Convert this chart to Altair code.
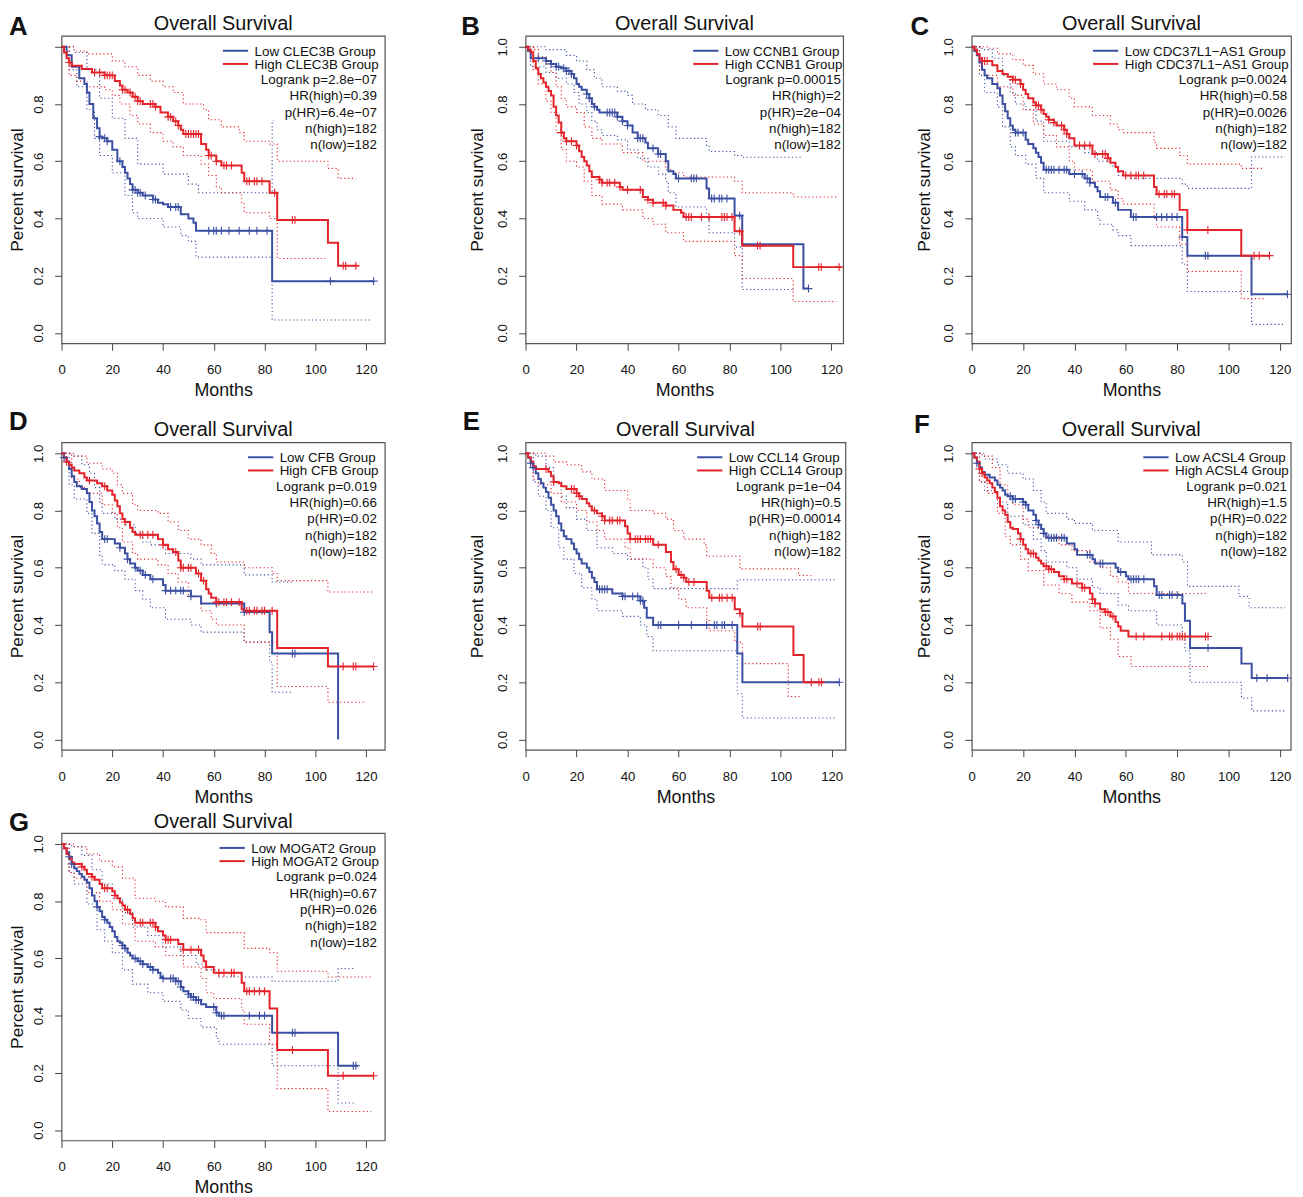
import altair as alt
import pandas as pd

BLUE = "#3b4fa2"
RED = "#e3232a"
FONT = "Liberation Sans"
INK = "#111111"

# ---------------- Kaplan-Meier curves: (months, survival) step points ----------------
# Panel A  CLEC3B
A_LOW = [(0,1.0),(2,0.97),(4,0.93),(7,0.89),(9,0.87),(10,0.84),(11,0.80),(12.5,0.75),(14,0.715),(15,0.686),(16,0.68),(18,0.67),(20,0.64),(22,0.60),(24,0.58),(25,0.56),(26,0.54),(27,0.52),(28,0.50),(30,0.49),(32,0.48),(36,0.466),(38,0.455),(40,0.45),(42,0.44),(47,0.415),(50,0.40),(52,0.385),(53,0.357),(83,0.181),(123,0.181)]
A_HIGH = [(0,1.0),(1,0.98),(2,0.96),(3,0.945),(4,0.934),(8,0.922),(12,0.91),(17,0.90),(21,0.88),(23,0.865),(24,0.85),(26,0.84),(28,0.825),(30,0.81),(32,0.80),(37,0.79),(39,0.77),(42,0.755),(44,0.74),(46,0.725),(47,0.71),(48,0.695),(55,0.66),(57,0.64),(58,0.62),(61,0.60),(63,0.585),(71,0.56),(72,0.53),(82,0.49),(85,0.395),(105,0.315),(109,0.235),(117,0.235)]
A_LOW_UP = [(0,1.0),(5,0.98),(10,0.92),(15,0.82),(20,0.75),(25,0.68),(30,0.59),(40,0.555),(50,0.52),(54,0.49),(83,0.742),(83.5,0.742)]
A_LOW_LO = [(0,1.0),(3,0.92),(6,0.86),(10,0.78),(13,0.68),(15,0.62),(20,0.56),(25,0.48),(28,0.42),(30,0.40),(40,0.37),(47,0.34),(50,0.32),(53,0.265),(83,0.045),(122,0.045)]
A_HIGH_UP = [(0,1.0),(5,0.985),(10,0.975),(20,0.95),(25,0.93),(30,0.90),(35,0.88),(40,0.86),(44,0.84),(48,0.80),(56,0.78),(58,0.745),(63,0.72),(70,0.70),(72,0.67),(82,0.66),(85,0.60),(105,0.575),(109,0.54),(116,0.54)]
A_HIGH_LO = [(0,1.0),(3,0.90),(6,0.88),(10,0.86),(17,0.85),(20,0.83),(23,0.80),(27,0.76),(30,0.73),(35,0.70),(40,0.67),(44,0.65),(48,0.62),(55,0.59),(58,0.55),(61,0.51),(63,0.49),(71,0.455),(72,0.42),(82,0.40),(85,0.26),(104,0.26)]
A_CENS_LOW = [15,17,18,23,28,29,30,31,33,36,37,43,45,46,58,60,61,63,66,70,74,77,81,106,123]
A_CENS_HIGH = [3,13,15,17,18,19,20,24,25,27,29,30,31,35,36,37,42,43,45,46,49,50,51,52,53,54,58,59,61,64,65,67,73,74,76,77,79,84,91,92,111,112,116]

# Panel B  CCNB1
B_LOW = [(0,1.0),(1,0.985),(2,0.96),(8,0.95),(10,0.94),(12,0.93),(14,0.925),(16,0.915),(18,0.905),(19,0.89),(20,0.87),(21,0.86),(22,0.85),(24,0.835),(25,0.82),(26,0.80),(27,0.79),(28,0.78),(29,0.77),(36,0.755),(38,0.74),(40,0.725),(42,0.70),(44,0.68),(47,0.665),(48,0.645),(52,0.625),(55,0.60),(56,0.565),(58,0.555),(59,0.54),(71,0.505),(72,0.47),(82,0.41),(85,0.31),(109,0.155),(111,0.155)]
B_HIGH = [(0,1.0),(1,0.99),(2,0.98),(3,0.95),(4,0.925),(5,0.905),(6,0.89),(7,0.875),(8,0.86),(9,0.845),(10,0.83),(11,0.79),(12,0.76),(13,0.735),(14,0.70),(15,0.68),(16,0.67),(20,0.655),(21,0.635),(22,0.615),(23,0.60),(24,0.585),(25,0.565),(26,0.545),(29,0.535),(30,0.525),(37,0.51),(38,0.50),(46,0.475),(48,0.465),(50,0.455),(55,0.445),(58,0.43),(61,0.42),(62,0.405),(82,0.355),(85,0.305),(105,0.23),(124,0.23)]
B_LOW_UP = [(0,1.0),(8,0.99),(16,0.97),(20,0.95),(24,0.92),(27,0.89),(30,0.86),(36,0.845),(40,0.83),(42,0.80),(47,0.78),(52,0.76),(56,0.72),(59,0.68),(71,0.655),(72,0.634),(82,0.62),(85,0.614),(108,0.614)]
B_LOW_LO = [(0,1.0),(2,0.93),(8,0.91),(12,0.89),(16,0.87),(19,0.84),(21,0.80),(24,0.77),(26,0.74),(28,0.71),(30,0.69),(36,0.675),(40,0.64),(44,0.61),(48,0.58),(52,0.555),(55,0.53),(56,0.49),(59,0.44),(71,0.40),(72,0.35),(82,0.30),(85,0.152),(105,0.152)]
B_HIGH_UP = [(0,1.0),(3,0.99),(5,0.965),(8,0.94),(10,0.91),(12,0.86),(14,0.82),(16,0.79),(20,0.77),(23,0.72),(26,0.68),(30,0.66),(38,0.63),(46,0.60),(55,0.57),(58,0.56),(62,0.545),(82,0.53),(85,0.49),(105,0.475),(122,0.475)]
B_HIGH_LO = [(0,1.0),(3,0.92),(5,0.87),(8,0.81),(10,0.77),(12,0.70),(14,0.64),(16,0.60),(20,0.58),(23,0.53),(26,0.48),(30,0.45),(38,0.43),(46,0.40),(50,0.38),(55,0.35),(62,0.32),(82,0.27),(85,0.19),(105,0.11),(122,0.11)]
B_CENS_LOW = [5,8,10,12,13,15,16,17,18,24,25,27,32,33,34,35,36,38,40,44,45,46,50,52,53,60,65,66,67,73,74,76,77,79,84,111]
B_CENS_HIGH = [14,16,18,20,29,30,32,33,35,37,40,45,48,50,54,55,63,64,65,69,72,77,78,79,81,84,91,92,115,116,123]

# Panel C  CDC37L1-AS1
C_LOW = [(0,1.0),(1,0.985),(2,0.97),(3,0.945),(4,0.92),(5,0.90),(6,0.89),(8,0.87),(10,0.855),(11,0.83),(12,0.80),(13,0.775),(14,0.75),(15,0.725),(16,0.71),(17,0.70),(21,0.675),(22,0.66),(24,0.645),(25,0.63),(26,0.615),(27,0.595),(28,0.57),(38,0.555),(44,0.54),(46,0.525),(48,0.51),(49,0.495),(50,0.475),(55,0.455),(57,0.43),(62,0.405),(82,0.335),(84,0.27),(109,0.135),(123,0.135)]
C_HIGH = [(0,1.0),(1,0.99),(2,0.975),(3,0.96),(4,0.95),(8,0.935),(10,0.915),(12,0.905),(14,0.895),(16,0.885),(19,0.87),(20,0.85),(21,0.835),(22,0.82),(24,0.805),(25,0.795),(27,0.78),(28,0.765),(29,0.755),(30,0.745),(32,0.735),(33,0.725),(36,0.71),(37,0.695),(38,0.68),(40,0.655),(47,0.625),(53,0.61),(54,0.595),(56,0.58),(57,0.565),(59,0.55),(71,0.51),(72,0.485),(81,0.43),(84,0.36),(105,0.27),(116,0.27)]
C_LOW_UP = [(0,1.0),(4,0.99),(8,0.96),(12,0.90),(15,0.84),(17,0.80),(21,0.78),(25,0.74),(28,0.67),(38,0.65),(44,0.63),(49,0.60),(55,0.58),(57,0.55),(62,0.54),(82,0.52),(84,0.505),(108,0.505),(109,0.615),(122,0.615)]
C_LOW_LO = [(0,1.0),(3,0.90),(5,0.84),(10,0.79),(12,0.72),(15,0.65),(17,0.62),(21,0.59),(25,0.54),(28,0.49),(38,0.46),(44,0.43),(49,0.40),(50,0.38),(55,0.36),(57,0.34),(62,0.305),(82,0.24),(84,0.145),(108,0.145),(109,0.03),(122,0.03)]
C_HIGH_UP = [(0,1.0),(6,0.995),(10,0.975),(16,0.955),(20,0.935),(24,0.905),(28,0.87),(33,0.85),(38,0.82),(40,0.79),(47,0.76),(54,0.73),(57,0.71),(59,0.70),(71,0.665),(72,0.645),(81,0.62),(84,0.59),(105,0.575),(114,0.575)]
C_HIGH_LO = [(0,1.0),(3,0.92),(5,0.90),(10,0.86),(16,0.83),(20,0.78),(24,0.73),(28,0.69),(33,0.65),(38,0.60),(40,0.57),(47,0.53),(54,0.50),(57,0.47),(59,0.45),(71,0.40),(72,0.37),(81,0.31),(84,0.215),(105,0.12),(114,0.12)]
C_CENS_LOW = [17,18,20,29,30,31,32,34,36,37,40,43,45,46,52,53,56,63,64,72,74,76,78,80,82,91,92,123]
C_CENS_HIGH = [4,5,6,16,17,19,25,26,27,30,32,35,36,37,42,44,46,48,51,52,53,60,62,64,65,67,73,75,76,78,79,84,92,110,112,116]

# Panel D  CFB
D_LOW = [(0,1.0),(1,0.985),(2,0.97),(3,0.945),(4,0.92),(5,0.90),(6,0.885),(8,0.875),(10,0.86),(11,0.83),(12,0.80),(13,0.78),(14,0.755),(15,0.725),(16,0.70),(21,0.685),(23,0.67),(25,0.65),(26,0.63),(27,0.615),(29,0.60),(30,0.59),(32,0.575),(35,0.56),(40,0.54),(41,0.52),(51,0.50),(55,0.475),(72,0.445),(82,0.375),(83,0.30),(109,0.0)]
D_HIGH = [(0,1.0),(1,0.985),(2,0.97),(3,0.96),(4,0.95),(5,0.94),(7,0.93),(9,0.915),(10,0.905),(14,0.895),(16,0.885),(18,0.87),(20,0.855),(21,0.835),(22,0.815),(23,0.79),(24,0.77),(25,0.76),(27,0.74),(28,0.725),(29,0.715),(38,0.70),(40,0.68),(42,0.665),(44,0.655),(46,0.625),(47,0.60),(53,0.58),(55,0.555),(57,0.525),(58,0.51),(59,0.495),(61,0.48),(71,0.455),(72,0.45),(85,0.32),(105,0.255),(123,0.255)]
D_LOW_UP = [(0,1.0),(4,0.99),(8,0.96),(11,0.93),(13,0.88),(15,0.83),(16,0.79),(21,0.77),(25,0.75),(29,0.72),(32,0.69),(35,0.68),(41,0.65),(51,0.63),(55,0.61),(72,0.575),(83,0.55),(91,0.55)]
D_LOW_LO = [(0,1.0),(3,0.89),(5,0.84),(10,0.79),(12,0.72),(15,0.64),(16,0.61),(21,0.59),(25,0.56),(29,0.52),(32,0.49),(35,0.46),(41,0.42),(51,0.40),(55,0.375),(72,0.34),(82,0.27),(83,0.165),(91,0.165)]
D_HIGH_UP = [(0,1.0),(5,0.99),(10,0.965),(16,0.945),(20,0.93),(22,0.89),(24,0.86),(28,0.82),(30,0.80),(38,0.79),(42,0.76),(46,0.73),(50,0.70),(55,0.68),(59,0.65),(61,0.62),(72,0.60),(83,0.58),(85,0.555),(105,0.515),(123,0.515)]
D_HIGH_LO = [(0,1.0),(4,0.91),(7,0.88),(10,0.86),(16,0.82),(20,0.79),(22,0.74),(24,0.69),(28,0.65),(30,0.63),(38,0.61),(42,0.58),(46,0.55),(50,0.50),(55,0.45),(59,0.42),(61,0.40),(72,0.34),(85,0.185),(105,0.13),(120,0.13)]
D_CENS_LOW = [1,17,18,23,26,29,31,33,36,41,43,45,47,48,51,61,72,91,92]
D_CENS_HIGH = [2,11,17,25,31,32,34,36,40,45,47,48,50,51,54,56,61,62,64,65,67,70,73,74,76,77,79,80,83,111,115,116,123]

# Panel E  CCL14
E_LOW = [(0,1.0),(1,0.985),(2,0.965),(3,0.95),(4,0.93),(5,0.91),(6,0.895),(7,0.88),(8,0.865),(9,0.845),(10,0.82),(11,0.80),(12,0.78),(13,0.755),(14,0.73),(15,0.71),(16,0.70),(18,0.685),(19,0.665),(20,0.65),(21,0.63),(22,0.615),(24,0.60),(25,0.585),(26,0.565),(27,0.55),(28,0.525),(34,0.51),(38,0.50),(45,0.485),(46.5,0.46),(47.5,0.425),(50,0.40),(83,0.30),(85,0.20),(123,0.20)]
E_HIGH = [(0,1.0),(1,0.985),(2,0.97),(3,0.955),(4,0.945),(9,0.935),(10,0.92),(11,0.90),(13,0.895),(14,0.885),(16,0.875),(20,0.86),(21,0.85),(22,0.84),(24,0.825),(25,0.815),(26,0.80),(28,0.79),(30,0.78),(31,0.765),(39,0.745),(40,0.72),(41,0.70),(50,0.68),(55,0.655),(57,0.62),(58,0.595),(60,0.575),(62,0.565),(63,0.55),(71,0.52),(72,0.495),(82,0.455),(84,0.44),(85,0.395),(105,0.295),(109,0.20),(117,0.20)]
E_LOW_UP = [(0,1.0),(4,0.99),(8,0.95),(11,0.90),(14,0.85),(16,0.81),(20,0.77),(24,0.73),(28,0.67),(34,0.65),(40,0.63),(46,0.60),(48,0.56),(50,0.527),(83,0.558),(122,0.558)]
E_LOW_LO = [(0,1.0),(3,0.90),(5,0.85),(8,0.80),(10,0.74),(13,0.67),(15,0.63),(19,0.58),(22,0.53),(26,0.49),(28,0.45),(38,0.43),(45,0.40),(47.5,0.36),(50,0.31),(83,0.16),(85,0.075),(122,0.075)]
E_HIGH_UP = [(0,1.0),(8,0.99),(11,0.97),(16,0.96),(22,0.935),(26,0.91),(31,0.87),(40,0.84),(41,0.80),(50,0.79),(55,0.77),(58,0.73),(62,0.70),(70,0.68),(71,0.64),(84,0.596),(107,0.573),(112,0.573)]
E_HIGH_LO = [(0,1.0),(3,0.91),(5,0.89),(10,0.86),(14,0.83),(20,0.80),(24,0.76),(28,0.73),(31,0.70),(39,0.67),(41,0.63),(50,0.60),(55,0.57),(57,0.53),(60,0.49),(63,0.46),(71,0.42),(72,0.38),(82,0.34),(85,0.265),(103,0.15),(108,0.15)]
E_CENS_LOW = [2,3,29,30,31,32,38,39,42,44,45,46,52,53,60,65,71,74,75,77,78,81,123]
E_CENS_HIGH = [8,11,18,19,20,21,27,30,31,33,34,36,37,41,43,44,45,47,48,49,52,59,61,62,64,66,73,76,77,79,81,84,91,92,112,115,116]

# Panel F  ACSL4
F_LOW = [(0,1.0),(1,0.985),(2,0.965),(3,0.95),(4,0.935),(5,0.925),(7,0.915),(9,0.905),(10,0.89),(11,0.88),(12,0.87),(13,0.855),(14,0.85),(16,0.84),(20,0.83),(21,0.82),(22,0.80),(24,0.785),(25,0.765),(26,0.75),(27,0.735),(28,0.72),(29,0.705),(37,0.685),(40,0.665),(41,0.645),(47,0.63),(48,0.615),(56,0.60),(57,0.585),(60,0.57),(61,0.56),(71,0.535),(72,0.505),(82,0.475),(83,0.415),(85,0.32),(105,0.265),(109,0.215),(123,0.215)]
F_HIGH = [(0,1.0),(1,0.985),(2,0.97),(3,0.945),(4,0.93),(5,0.915),(6,0.905),(7,0.895),(8,0.88),(9,0.865),(10,0.845),(11,0.815),(12,0.80),(13,0.785),(14,0.76),(15,0.74),(16,0.735),(18,0.72),(19,0.70),(20,0.68),(21,0.665),(22,0.65),(25,0.635),(26,0.625),(27,0.615),(28,0.605),(30,0.595),(32,0.585),(34,0.57),(36,0.56),(39,0.545),(43,0.53),(46,0.51),(47,0.49),(48,0.475),(50,0.455),(52,0.445),(54,0.43),(56,0.41),(57,0.395),(58,0.38),(61,0.36),(92,0.36)]
F_LOW_UP = [(0,1.0),(5,0.98),(10,0.96),(14,0.93),(20,0.91),(24,0.87),(27,0.83),(29,0.79),(37,0.77),(40,0.755),(47,0.73),(57,0.69),(70,0.645),(82,0.62),(84,0.535),(101,0.535),(104,0.50),(108,0.46),(122,0.46)]
F_LOW_LO = [(0,1.0),(3,0.90),(5,0.87),(10,0.83),(14,0.78),(20,0.75),(24,0.70),(27,0.66),(29,0.62),(37,0.60),(41,0.56),(47,0.53),(50,0.51),(57,0.47),(61,0.45),(72,0.40),(82,0.35),(83,0.31),(85,0.20),(103,0.20),(105,0.145),(109,0.10),(122,0.10)]
F_HIGH_UP = [(0,1.0),(4,0.99),(8,0.95),(11,0.89),(14,0.85),(16,0.82),(20,0.77),(22,0.74),(28,0.71),(34,0.68),(39,0.66),(46,0.62),(50,0.60),(54,0.57),(57,0.55),(61,0.51),(92,0.51)]
F_HIGH_LO = [(0,1.0),(3,0.90),(6,0.86),(10,0.79),(13,0.71),(15,0.68),(19,0.63),(22,0.59),(28,0.54),(34,0.51),(39,0.48),(46,0.45),(50,0.39),(54,0.35),(57,0.29),(62,0.255),(92,0.255)]
F_CENS_LOW = [2,15,16,17,20,21,25,26,28,30,31,32,33,35,36,45,46,50,51,58,62,63,64,65,67,73,74,77,78,80,92,111,115,123]
F_CENS_HIGH = [3,4,19,23,24,29,30,31,36,37,41,43,44,47,48,52,53,55,64,67,74,77,78,80,81,82,83,91,92]

# Panel G  MOGAT2
G_LOW = [(0,1.0),(1,0.985),(2,0.97),(3,0.955),(4,0.93),(5,0.915),(6,0.905),(7,0.895),(8,0.885),(9,0.875),(10,0.865),(11,0.845),(12,0.82),(13,0.80),(14,0.78),(15,0.765),(16,0.745),(17,0.735),(18,0.725),(19,0.71),(20,0.695),(21,0.675),(22,0.66),(23,0.655),(24,0.645),(25,0.635),(26,0.62),(27,0.61),(28,0.60),(30,0.59),(32,0.58),(34,0.57),(36,0.56),(38,0.55),(39,0.535),(40,0.53),(45,0.52),(47,0.50),(48,0.485),(50,0.475),(51,0.465),(53,0.455),(55,0.44),(57,0.43),(61,0.41),(62,0.40),(83,0.34),(109,0.225),(117,0.225)]
G_HIGH = [(0,1.0),(1,0.985),(2,0.965),(3,0.95),(4,0.935),(5,0.93),(8,0.92),(9,0.91),(10,0.895),(12,0.885),(13,0.875),(15,0.86),(16,0.845),(20,0.835),(21,0.82),(22,0.81),(23,0.795),(24,0.785),(25,0.77),(27,0.755),(28,0.74),(29,0.725),(37,0.71),(38,0.695),(40,0.68),(41,0.665),(46,0.65),(48,0.63),(55,0.61),(56,0.59),(57,0.57),(60,0.55),(71,0.515),(72,0.485),(82,0.425),(85,0.28),(105,0.19),(123,0.19)]
G_LOW_UP = [(0,1.0),(4,0.99),(8,0.96),(12,0.91),(16,0.86),(20,0.81),(24,0.76),(28,0.71),(34,0.68),(40,0.64),(47,0.61),(53,0.58),(57,0.56),(62,0.535),(83,0.52),(109,0.565),(116,0.565)]
G_LOW_LO = [(0,1.0),(3,0.90),(5,0.86),(10,0.79),(14,0.70),(17,0.66),(20,0.62),(24,0.56),(28,0.51),(34,0.48),(40,0.45),(47,0.42),(50,0.39),(55,0.36),(61,0.32),(62,0.30),(83,0.225),(109,0.095),(116,0.095)]
G_HIGH_UP = [(0,1.0),(5,0.99),(10,0.965),(15,0.94),(20,0.92),(24,0.88),(29,0.81),(37,0.80),(41,0.78),(48,0.74),(55,0.735),(57,0.69),(71,0.69),(72,0.635),(82,0.62),(85,0.555),(105,0.535),(122,0.535)]
G_HIGH_LO = [(0,1.0),(3,0.90),(5,0.88),(10,0.83),(15,0.80),(20,0.77),(24,0.72),(29,0.66),(37,0.64),(41,0.61),(48,0.57),(55,0.53),(57,0.48),(60,0.46),(71,0.42),(72,0.37),(82,0.30),(85,0.145),(105,0.065),(122,0.065)]
G_CENS_LOW = [3,4,14,17,24,25,29,31,32,35,36,40,43,44,45,46,47,50,51,52,53,54,60,61,63,64,74,78,80,91,92,115,116]
G_CENS_HIGH = [8,12,17,18,21,26,31,32,35,36,37,41,42,43,48,51,54,57,62,64,67,68,73,74,76,78,80,91,111,123]

# ---------------- labels ----------------
LETTERS = ["A", "B", "C", "D", "E", "F", "G"]
GENES = ["CLEC3B", "CCNB1", "CDC37L1\u2212AS1", "CFB", "CCL14", "ACSL4", "MOGAT2"]
LOGRANK_P = ["2.8e\u221207", "0.00015", "0.0024", "0.019", "1e\u221204", "0.021", "0.024"]
HR_HIGH = ["0.39", "2", "0.58", "0.66", "0.5", "1.5", "0.67"]
P_HR = ["6.4e\u221207", "2e\u221204", "0.0026", "0.02", "0.00014", "0.022", "0.026"]
N_HIGH = [182, 182, 182, 182, 182, 182, 182]
N_LOW = [182, 182, 182, 182, 182, 182, 182]
X_TICKS = [0, 20, 40, 60, 80, 100, 120]
Y_TICKS = [0.0, 0.2, 0.4, 0.6, 0.8, 1.0]

CURVES = [
    (A_LOW, A_HIGH, A_LOW_UP, A_LOW_LO, A_HIGH_UP, A_HIGH_LO, A_CENS_LOW, A_CENS_HIGH),
    (B_LOW, B_HIGH, B_LOW_UP, B_LOW_LO, B_HIGH_UP, B_HIGH_LO, B_CENS_LOW, B_CENS_HIGH),
    (C_LOW, C_HIGH, C_LOW_UP, C_LOW_LO, C_HIGH_UP, C_HIGH_LO, C_CENS_LOW, C_CENS_HIGH),
    (D_LOW, D_HIGH, D_LOW_UP, D_LOW_LO, D_HIGH_UP, D_HIGH_LO, D_CENS_LOW, D_CENS_HIGH),
    (E_LOW, E_HIGH, E_LOW_UP, E_LOW_LO, E_HIGH_UP, E_HIGH_LO, E_CENS_LOW, E_CENS_HIGH),
    (F_LOW, F_HIGH, F_LOW_UP, F_LOW_LO, F_HIGH_UP, F_HIGH_LO, F_CENS_LOW, F_CENS_HIGH),
    (G_LOW, G_HIGH, G_LOW_UP, G_LOW_LO, G_HIGH_UP, G_HIGH_LO, G_CENS_LOW, G_CENS_HIGH),
]

# ---------------- layout (pixels) ----------------
H = 310
X_MAX = [127.4, 124.6, 124.4, 127.4, 125.4, 124.2, 127.4]
WIDTHS = [326, 320.3, 322, 326, 322.6, 321.7, 326]
# extents around each plot box: left, right, top, bottom
EXTENTS = [(53, 70, 22, 60), (69.7, 63, 22, 60), (65, 0, 22, 60),
           (53, 70, 37.7, 58.3), (69.7, 60.7, 37.7, 58.3), (65, 0, 37.7, 58.3),
           (53, 0, 24.3, 58)]
LEGEND_X = [194.7, 201, 154.3, 220, 205, 205, 191.3]
STATS_RIGHT = 318
LETTER_POS = [(-53, -1), (-65, -1), (-61.7, -1), (-53, -12.7), (-63.4, -12.7), (-58.3, -9.4), (-53, -2.3)]
TITLE_Y = [-6, -6, -6, -6.7, -6.7, -6.7, -5]
YTITLE_X = [-39, -43, -43, -39, -43, -43, -39]

ONE = pd.DataFrame({"k": [0]})
PLUS = "M0,-1L0,1M-1,0L1,0"


def surv_at(curve, t):
    v = curve[0][1]
    for tt, ss in curve:
        if tt <= t:
            v = ss
        else:
            break
    return v


def frame(named):
    rows = []
    for name, pts in named:
        for t, s in pts:
            rows.append({"t": t, "s": s, "band": name})
    return pd.DataFrame(rows)


def text(txt, x, y, size=13.5, align="left", weight="normal"):
    return alt.Chart(ONE).mark_text(
        text=txt, align=align, baseline="alphabetic", fontSize=size,
        fontWeight=weight, font=FONT, color=INK
    ).encode(x=alt.value(x), y=alt.value(y))


def panel(i):
    low, high, low_up, low_lo, high_up, high_lo, c_low, c_high = CURVES[i]
    W = WIDTHS[i]
    L, R, T, B = EXTENTS[i]
    xs = alt.Scale(domain=[0, X_MAX[i]], nice=False, zero=False)
    ys = alt.Scale(domain=[-0.036, 1.038], nice=False, zero=False)
    label_expr = "datum.value > 0.99 ? '' : datum.label" if i == 0 else "datum.label"
    xaxis = alt.Axis(values=X_TICKS, format="d", title="Months", grid=False, domain=False,
                     tickSize=7, tickColor="#444", labelPadding=12.5, labelFontSize=13.3,
                     labelColor=INK, labelFlush=False, labelOverlap=False,
                     titleFontSize=18, titleFontWeight="normal", titleColor=INK,
                     titleX=W / 2, titleY=53, titleBaseline="alphabetic", titleAlign="center")
    yaxis = alt.Axis(values=Y_TICKS, format=".1f", title="Percent survival", grid=False, domain=False,
                     tickSize=7, tickColor="#444", labelPadding=12.3, labelFontSize=13.3,
                     labelColor=INK, labelAngle=270, labelAlign="center", labelBaseline="alphabetic",
                     labelFlush=False, labelOverlap=False, labelExpr=label_expr,
                     titleFontSize=17.5, titleFontWeight="normal", titleColor=INK,
                     titleAngle=270, titleX=YTITLE_X[i], titleY=H / 2,
                     titleBaseline="alphabetic", titleAlign="center")

    def enc(chart):
        return chart.encode(
            x=alt.X("t:Q", scale=xs, axis=xaxis),
            y=alt.Y("s:Q", scale=ys, axis=yaxis),
        )

    dotted = dict(interpolate="step-after", strokeWidth=1.1, strokeDash=[1.2, 2.6])
    ci_low = enc(alt.Chart(frame([("up", low_up), ("lo", low_lo)])).mark_line(color=BLUE, **dotted)).encode(detail="band:N")
    ci_high = enc(alt.Chart(frame([("up", high_up), ("lo", high_lo)])).mark_line(color=RED, **dotted)).encode(detail="band:N")
    est_low = enc(alt.Chart(frame([("est", low)])).mark_line(color=BLUE, interpolate="step-after", strokeWidth=2))
    est_high = enc(alt.Chart(frame([("est", high)])).mark_line(color=RED, interpolate="step-after", strokeWidth=2))
    cens_low = enc(alt.Chart(pd.DataFrame({"t": c_low, "s": [surv_at(low, t) for t in c_low]})).mark_point(
        shape=PLUS, size=64, filled=False, strokeWidth=1.1, color=BLUE, opacity=1))
    cens_high = enc(alt.Chart(pd.DataFrame({"t": c_high, "s": [surv_at(high, t) for t in c_high]})).mark_point(
        shape=PLUS, size=64, filled=False, strokeWidth=1.1, color=RED, opacity=1))

    lx = LEGEND_X[i]
    leg = [
        alt.Chart(ONE).mark_rule(color=BLUE, strokeWidth=2).encode(x=alt.value(lx - 32), x2=alt.value(lx - 6.5), y=alt.value(15)),
        alt.Chart(ONE).mark_rule(color=RED, strokeWidth=2).encode(x=alt.value(lx - 32), x2=alt.value(lx - 6.5), y=alt.value(28.3)),
        text(f"Low {GENES[i]} Group", lx, 19.8),
        text(f"High {GENES[i]} Group", lx, 33.1),
        text(f"Logrank p={LOGRANK_P[i]}", STATS_RIGHT, 48.8, align="right"),
        text(f"HR(high)={HR_HIGH[i]}", STATS_RIGHT, 65.1, align="right"),
        text(f"p(HR)={P_HR[i]}", STATS_RIGHT, 81.5, align="right"),
        text(f"n(high)={N_HIGH[i]}", STATS_RIGHT, 98.1, align="right"),
        text(f"n(low)={N_LOW[i]}", STATS_RIGHT, 114.5, align="right"),
    ]
    title = text("Overall Survival", W / 2, TITLE_Y[i], size=20, align="center")
    lxp, lyp = LETTER_POS[i]
    letter = text(LETTERS[i], lxp, lyp, size=26, weight="bold")
    extent = alt.Chart(ONE).mark_rule(opacity=0, strokeOpacity=0).encode(
        x=alt.value(-L), x2=alt.value(W + R), y=alt.value(-T), y2=alt.value(H + B))

    return alt.layer(ci_low, ci_high, est_low, est_high, cens_low, cens_high,
                     *leg, title, letter, extent).properties(width=W, height=H)


P = [panel(i) for i in range(7)]
row1 = alt.hconcat(P[0], P[1], P[2], spacing=0)
row2 = alt.hconcat(P[3], P[4], P[5], spacing=0)
chart = alt.vconcat(row1, row2, P[6], spacing=0).properties(
    padding=0, background="white"
).configure(font=FONT).configure_view(stroke="#555555", strokeWidth=1.2)

chart.save("out.html", embed_options={"renderer": "svg", "actions": False})
